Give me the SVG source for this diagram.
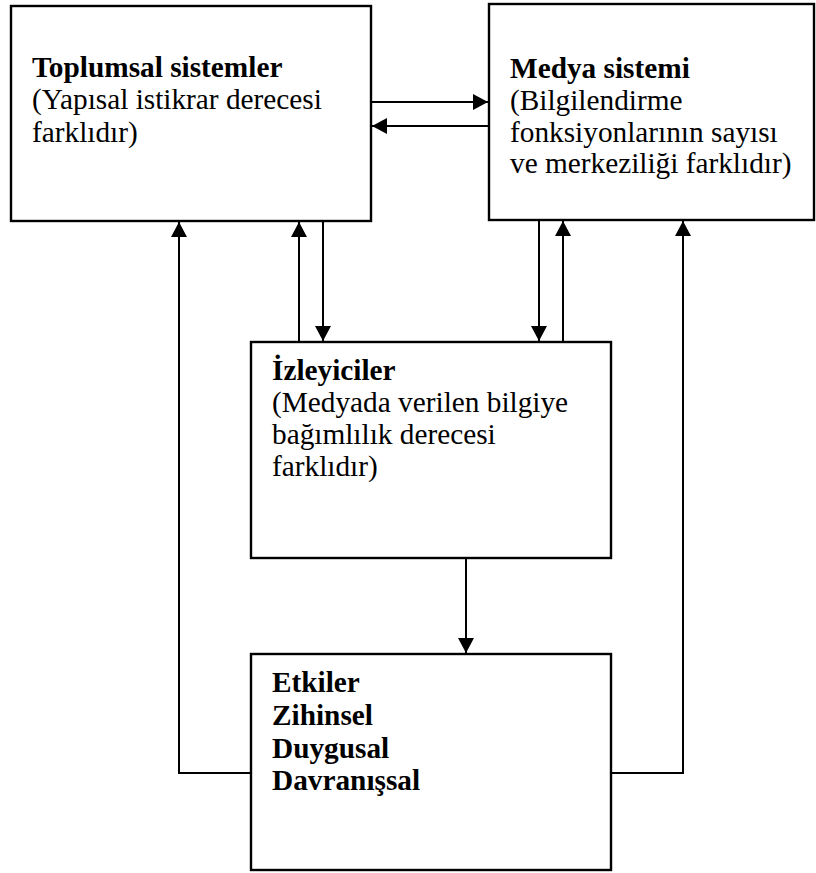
<svg xmlns="http://www.w3.org/2000/svg" width="816" height="873" viewBox="0 0 816 873">
  <style>
    .box { fill: #ffffff; stroke: #000000; stroke-width: 2.4; }
    .conn { fill: none; stroke: #000000; stroke-width: 2; }
    .t { font-family: 'Liberation Serif', serif; font-size: 29.3px; fill: #000000; }
    .b { font-weight: bold; }
  </style>
  <defs>
    <marker id="arrow" markerUnits="userSpaceOnUse" markerWidth="15" markerHeight="16" refX="15" refY="8" orient="auto">
      <path d="M0,0 L15,8 L0,16 z" fill="#000000"/>
    </marker>
  </defs>
  <rect width="816" height="873" fill="#ffffff"/>

  <g id="connectors">
    <line class="conn" x1="371" y1="102" x2="488" y2="102" marker-end="url(#arrow)"/>
    <line class="conn" x1="489" y1="126" x2="372" y2="126" marker-end="url(#arrow)"/>
    <line class="conn" x1="299" y1="342" x2="299" y2="222" marker-end="url(#arrow)"/>
    <line class="conn" x1="323" y1="221" x2="323" y2="341" marker-end="url(#arrow)"/>
    <line class="conn" x1="539" y1="220" x2="539" y2="341" marker-end="url(#arrow)"/>
    <line class="conn" x1="563" y1="342" x2="563" y2="221" marker-end="url(#arrow)"/>
    <line class="conn" x1="466" y1="558" x2="466" y2="653" marker-end="url(#arrow)"/>
    <path class="conn" d="M251,773 H179 V222" marker-end="url(#arrow)"/>
    <path class="conn" d="M611,773 H683 V221" marker-end="url(#arrow)"/>
  </g>

  <g id="node-toplumsal">
    <rect class="box" x="11" y="6" width="360" height="215"/>
    <text class="t b" x="32" y="77" font-family="Liberation Serif">Toplumsal sistemler</text>
    <text class="t" x="32" y="109" font-family="Liberation Serif">(Yapısal istikrar derecesi</text>
    <text class="t" x="32" y="142" font-family="Liberation Serif">farklıdır)</text>
  </g>

  <g id="node-medya">
    <rect class="box" x="489" y="4" width="325" height="216"/>
    <text class="t b" x="510" y="78" font-family="Liberation Serif">Medya sistemi</text>
    <text class="t" x="510" y="110" font-family="Liberation Serif">(Bilgilendirme</text>
    <text class="t" x="510" y="142" font-family="Liberation Serif">fonksiyonlarının sayısı</text>
    <text class="t" x="510" y="173" font-family="Liberation Serif">ve merkeziliği farklıdır)</text>
  </g>

  <g id="node-izleyiciler">
    <rect class="box" x="251" y="342" width="360" height="216"/>
    <text class="t b" x="272" y="380" font-family="Liberation Serif">İzleyiciler</text>
    <text class="t" x="272" y="412" font-family="Liberation Serif">(Medyada verilen bilgiye</text>
    <text class="t" x="272" y="444" font-family="Liberation Serif">bağımlılık derecesi</text>
    <text class="t" x="272" y="476" font-family="Liberation Serif">farklıdır)</text>
  </g>

  <g id="node-etkiler">
    <rect class="box" x="251" y="654" width="360" height="216"/>
    <text class="t b" x="272" y="692" font-family="Liberation Serif">Etkiler</text>
    <text class="t b" x="272" y="725" font-family="Liberation Serif">Zihinsel</text>
    <text class="t b" x="272" y="758" font-family="Liberation Serif">Duygusal</text>
    <text class="t b" x="272" y="790" font-family="Liberation Serif">Davranışsal</text>
  </g>
</svg>
